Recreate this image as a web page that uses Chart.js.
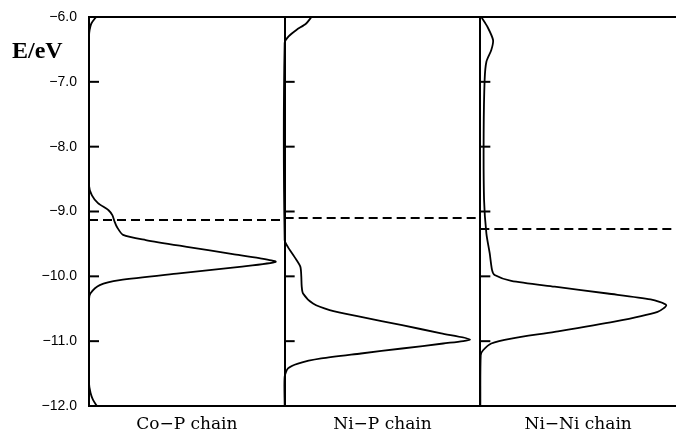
<!DOCTYPE html>
<html>
<head>
<meta charset="utf-8">
<script src="https://cdn.jsdelivr.net/npm/chart.js@4.4.1/dist/chart.umd.min.js"></script>
<style>
  html, body { margin: 0; padding: 0; background: #fff; }
  #wrap { width: 676px; height: 434px; position: relative; }
</style>
</head>
<body>
<div id="wrap"><canvas id="c" width="676" height="434"></canvas></div>
<script>
// ---- data (energies in eV, DOS as fraction of panel width) ----
const panelLabels = ['Co\u2212P chain', 'Ni\u2212P chain', 'Ni\u2212Ni chain'];
const yTicks = [-12, -11, -10, -9, -8, -7, -6];
const fermiLevels = [-9.13, -9.10, -9.27];

const coP_E = [-6.0, -6.1, -6.2, -6.3, -8.6, -8.75, -8.87, -8.98, -9.06, -9.15, -9.24, -9.36, -9.44, -9.545, -9.657, -9.72, -9.776, -9.853, -9.955, -10.06, -10.136, -10.264, -10.36, -11.65, -11.8, -11.9, -12.0];
const coP_D = [0.036, 0.012, 0.003, 0, 0, 0.015, 0.046, 0.10, 0.12, 0.13, 0.143, 0.174, 0.29, 0.50, 0.735, 0.87, 0.954, 0.77, 0.46, 0.157, 0.055, 0.007, 0, 0, 0.008, 0.02, 0.04];

const niP_E = [-6.0, -6.1, -6.2, -6.3, -6.4, -9.44, -9.55, -9.70, -9.85, -10.0, -10.15, -10.264, -10.42, -10.52, -10.625, -10.753, -10.88, -10.974, -11.036, -11.113, -11.19, -11.267, -11.345, -11.42, -11.55, -12.0];
const niP_D = [0.137, 0.11, 0.06, 0.02, 0, 0, 0.017, 0.05, 0.08, 0.085, 0.087, 0.094, 0.145, 0.23, 0.39, 0.60, 0.80, 0.947, 0.81, 0.60, 0.39, 0.187, 0.068, 0.017, 0, 0];

const niNi_E = [-6.0, -6.149, -6.355, -6.51, -6.69, -6.97, -7.795, -8.82, -9.34, -9.647, -9.904, -9.98, -10.07, -10.16, -10.265, -10.357, -10.444, -10.548, -10.70, -10.857, -10.96, -11.036, -11.14, -11.216, -12.0];
const niNi_D = [0.005, 0.036, 0.065, 0.056, 0.031, 0.022, 0.017, 0.019, 0.031, 0.048, 0.06, 0.073, 0.158, 0.38, 0.65, 0.87, 0.95, 0.906, 0.685, 0.38, 0.158, 0.056, 0.014, 0.002, 0];

// ---- build datasets (each panel occupies one unit on the x scale) ----
const curves = [[coP_E, coP_D], [niP_E, niP_D], [niNi_E, niNi_D]];
const datasets = [];
curves.forEach(([E, D], i) => {
  datasets.push({
    data: E.map((e, k) => ({ x: i + D[k], y: e })),
    showLine: true, borderColor: '#000', borderWidth: 1.8,
    pointRadius: 0, tension: 0.25, fill: false
  });
});
fermiLevels.forEach((f, i) => {
  datasets.push({
    data: [{ x: i, y: f }, { x: i + 1, y: f }],
    showLine: true, borderColor: '#000', borderWidth: 2,
    borderDash: [9, 5], pointRadius: 0, fill: false
  });
});

const framePlugin = {
  id: 'frame',
  afterDatasetsDraw(chart) {
    const { ctx, chartArea: a, scales: { x, y } } = chart;
    ctx.save();
    ctx.strokeStyle = '#000';
    ctx.lineWidth = 2;
    // top border
    ctx.beginPath();
    ctx.moveTo(a.left - 1, a.top);
    ctx.lineTo(a.right, a.top);
    ctx.stroke();
    // inward tick marks at the left edge of each panel
    for (let i = 0; i < panelLabels.length; i++) {
      const px = x.getPixelForValue(i);
      y.ticks.forEach(t => {
        const py = y.getPixelForValue(t.value);
        ctx.beginPath();
        ctx.moveTo(px, py);
        ctx.lineTo(px + 10, py);
        ctx.stroke();
      });
    }
    // axis unit label
    ctx.fillStyle = '#000';
    ctx.font = 'bold 24px "Liberation Serif", serif';
    ctx.textAlign = 'left';
    ctx.textBaseline = 'alphabetic';
    ctx.fillText('E/eV', 12, 58);
    ctx.restore();
  }
};

new Chart(document.getElementById('c'), {
  type: 'scatter',
  data: { datasets },
  options: {
    responsive: false,
    animation: false,
    events: [],
    layout: { padding: { left: 0, right: 0, top: 17, bottom: 0 } },
    plugins: { legend: { display: false }, tooltip: { enabled: false } },
    scales: {
      x: {
        type: 'linear', min: 0, max: 3,
        afterBuildTicks: s => { s.ticks = [0, 0.5, 1, 1.5, 2, 2.5, 3].map(v => ({ value: v })); },
        afterFit: s => { s.height = 28; s.paddingLeft = 0; s.paddingRight = 0; },
        ticks: {
          autoSkip: false, maxRotation: 0, padding: 8, color: '#000',
          font: { family: '"DejaVu Serif", serif', size: 17 },
          callback: v => (Math.abs(v % 1 - 0.5) < 1e-6 ? panelLabels[Math.floor(v)] : '')
        },
        grid: {
          drawTicks: false, lineWidth: 2,
          color: c => (c.tick && Number.isInteger(c.tick.value) && c.tick.value < 3 ? '#000' : 'rgba(0,0,0,0)')
        },
        border: { display: true, color: '#000', width: 2 }
      },
      y: {
        type: 'linear', min: -12, max: -6,
        afterBuildTicks: s => { s.ticks = yTicks.map(v => ({ value: v })); },
        afterFit: s => { s.width = 89; s.paddingTop = 0; s.paddingBottom = 0; },
        ticks: {
          padding: 12, color: '#000',
          font: { family: '"Liberation Sans", Arial, sans-serif', size: 14 },
          callback: v => (v < 0 ? '\u2212' : '') + Math.abs(v).toFixed(1)
        },
        grid: { display: false, drawTicks: false },
        border: { display: true, color: '#000', width: 2 }
      }
    }
  },
  plugins: [framePlugin]
});
</script>
</body>
</html>
